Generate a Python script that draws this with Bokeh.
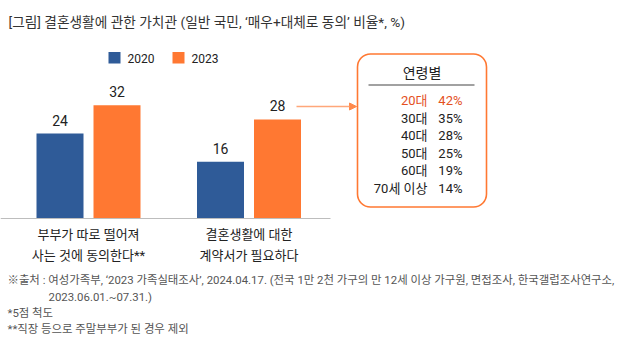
from bokeh.plotting import figure
from bokeh.models import ColumnDataSource, BoxAnnotation, Arrow, NormalHead, Range1d
from bokeh.core.properties import value
from bokeh.embed import file_html
from bokeh.resources import INLINE

# ---- data ----
categories = ["부부가 따로 떨어져\n사는 것에 동의한다**", "결혼생활에 대한\n계약서가 필요하다"]
years = ["2020", "2023"]
values_2020 = [24, 16]
values_2023 = [32, 28]
age_groups = ["20대", "30대", "40대", "50대", "60대", "70세 이상"]
age_values = ["42%", "35%", "28%", "25%", "19%", "14%"]
title_text = "[그림] 결혼생활에 관한 가치관 (일반 국민, ‘매우+대체로 동의’ 비율*, %)"
box_title = "연령별"
notes = [
    "※출처 : 여성가족부, ‘2023 가족실태조사’, 2024.04.17. (전국 1만 2천 가구의 만 12세 이상 가구원, 면접조사, 한국갤럽조사연구소,",
    "2023.06.01.~07.31.)",
    "*5점 척도",
    "**직장 등으로 주말부부가 된 경우 제외",
]

# ---- layout helpers ----
W, H = 624, 342
BASE = 218.0      # pixel row of the zero line
S = 3.54          # pixels per unit
def Y(py):
    return (BASE - py) / S

FONT = "Roboto, Noto Sans CJK KR"
BLUE = "#2F5B98"
ORANGE = "#FF7832"
DARK = "#222222"

p = figure(width=W, height=H, x_range=Range1d(0, W), y_range=Range1d(Y(H), Y(0)),
           output_backend="svg", toolbar_location=None, min_border=0,
           x_axis_type=None, y_axis_type=None, outline_line_color=None)
p.xgrid.visible = False
p.ygrid.visible = False
p.background_fill_color = "white"
p.border_fill_color = "white"

# bars
centers = [88 + i * 160.5 for i in range(len(categories))]
off = 28.5
bw = 47
x20 = [c - off for c in centers]
x23 = [c + off for c in centers]
src20 = ColumnDataSource(dict(x=x20, top=values_2020, lab=[str(v) for v in values_2020]))
src23 = ColumnDataSource(dict(x=x23, top=values_2023, lab=[str(v) for v in values_2023]))
p.vbar(x="x", top="top", bottom=0, width=bw, source=src20, fill_color=BLUE, line_color=None)
p.vbar(x="x", top="top", bottom=0, width=bw, source=src23, fill_color=ORANGE, line_color=None)

lab_off = 13.5 / S
for src in (src20, src23):
    src.data["ly"] = [t + lab_off for t in src.data["top"]]
    p.text(x="x", y="ly", text="lab", source=src, text_align="center", text_baseline="middle",
           text_font=value(FONT), text_font_size="14px", text_color=DARK)

# baseline
p.segment(x0=[0], y0=[0], x1=[330], y1=[0], line_color="#BDBDBD", line_width=1.2)

# category labels (two lines)
for c, cat in zip(centers, categories):
    lines = cat.split("\n")
    for j, ln in enumerate(lines):
        p.text(x=[c], y=[Y(234 + j * 21)], text=[ln], text_align="center", text_baseline="middle",
               text_font=value(FONT), text_font_size="13px", text_color=DARK)

# legend
lx = [108, 172]
cols = [BLUE, ORANGE]
for i, yr in enumerate(years):
    p.add_layout(BoxAnnotation(left=lx[i], right=lx[i] + 12, top=Y(51.5), bottom=Y(63),
                               fill_color=cols[i], fill_alpha=1, line_color=None))
    p.text(x=[lx[i] + 19], y=[Y(57.5)], text=[yr], text_align="left", text_baseline="middle",
           text_font=value(FONT), text_font_size="12px", text_color=DARK)

# title
p.text(x=[8], y=[Y(21)], text=[title_text], text_align="left", text_baseline="middle",
       text_font=value(FONT), text_font_size="13.7px", text_color="#333333")

# arrow
p.add_layout(Arrow(end=NormalHead(size=7, fill_color="#FF8A4C", line_color="#FF8A4C"),
                   x_start=296, y_start=Y(106), x_end=356, y_end=Y(106),
                   line_color="#FFA77A", line_width=1.5))

# rounded box
p.add_layout(BoxAnnotation(left=357, right=486, top=Y(53.5), bottom=Y(206.5),
                           fill_alpha=0, line_color=ORANGE, line_alpha=1, line_width=1.6,
                           border_radius=13))
p.text(x=[421.5], y=[Y(72)], text=[box_title], text_align="center", text_baseline="middle",
       text_font=value(FONT), text_font_size="14px", text_color=DARK)
p.segment(x0=[368], y0=[Y(84.5)], x1=[474], y1=[Y(84.5)], line_color="#444444", line_width=1.2)
row_y = [Y(100 + k * 17.5) for k in range(len(age_groups))]
row_col = ["#E4501E"] + [DARK] * (len(age_groups) - 1)
tsrc = ColumnDataSource(dict(ya=row_y, ag=age_groups, av=age_values, c=row_col,
                             xa=[427] * len(age_groups), xv=[462] * len(age_groups)))
p.text(x="xa", y="ya", text="ag", source=tsrc, text_align="right", text_baseline="middle",
       text_font=value(FONT), text_font_size="13px", text_color="c")
p.text(x="xv", y="ya", text="av", source=tsrc, text_align="right", text_baseline="middle",
       text_font=value(FONT), text_font_size="13px", text_color="c")

# footnotes
note_x = [7, 48, 7, 7]
note_y = [279, 296, 312, 328]
for nx, ny, t in zip(note_x, note_y, notes):
    p.text(x=[nx], y=[Y(ny)], text=[t], text_align="left", text_baseline="middle",
           text_font=value(FONT), text_font_size="11.4px", text_color="#555555")

open("out.html", "w").write(file_html(p, INLINE))
